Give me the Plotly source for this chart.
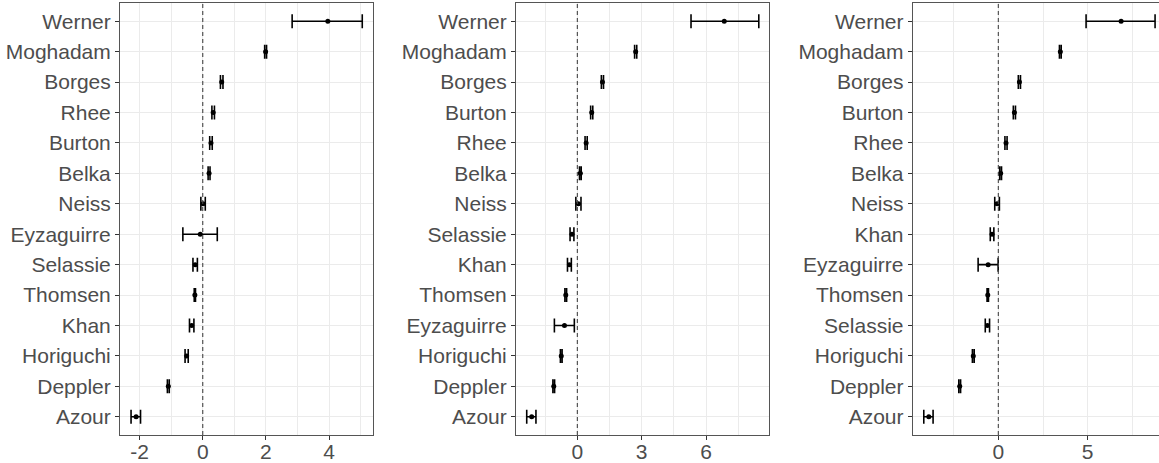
import plotly.graph_objects as go

# ---------------- data ----------------
names = ["Azour", "Belka", "Borges", "Burton", "Deppler", "Eyzaguirre", "Horiguchi",
         "Khan", "Moghadam", "Neiss", "Rhee", "Selassie", "Thomsen", "Werner"]

est1 = [-2.11, 0.20, 0.60, 0.26, -1.09, -0.08, -0.51, -0.35, 1.99, 0.01, 0.33, -0.24, -0.25, 3.96]
lo1 = [-2.27, 0.17, 0.56, 0.22, -1.12, -0.63, -0.56, -0.42, 1.96, -0.06, 0.29, -0.31, -0.27, 2.83]
hi1 = [-1.97, 0.23, 0.64, 0.30, -1.06, 0.46, -0.46, -0.28, 2.02, 0.08, 0.37, -0.17, -0.23, 5.05]

est2 = [-2.13, 0.14, 1.17, 0.67, -1.10, -0.60, -0.75, -0.37, 2.72, 0.05, 0.41, -0.25, -0.54, 6.85]
lo2 = [-2.36, 0.10, 1.12, 0.62, -1.14, -1.07, -0.79, -0.46, 2.67, -0.07, 0.36, -0.34, -0.58, 5.30]
hi2 = [-1.93, 0.18, 1.22, 0.72, -1.06, -0.14, -0.71, -0.28, 2.77, 0.17, 0.46, -0.16, -0.50, 8.46]

est3 = [-3.89, 0.13, 1.18, 0.90, -2.16, -0.57, -1.40, -0.35, 3.47, -0.07, 0.43, -0.61, -0.59, 6.87]
lo3 = [-4.17, 0.08, 1.12, 0.84, -2.21, -1.13, -1.45, -0.45, 3.42, -0.20, 0.37, -0.73, -0.63, 4.91]
hi3 = [-3.65, 0.18, 1.24, 0.96, -2.11, -0.01, -1.35, -0.25, 3.52, 0.06, 0.49, -0.49, -0.55, 8.77]

ticks1 = [-2, 0, 2, 4]
ticks2 = [0, 3, 6]
ticks3 = [0, 5]

panels = [(est1, lo1, hi1, ticks1), (est2, lo2, hi2, ticks2), (est3, lo3, hi3, ticks3)]

# ---------------- layout settings ----------------
W, H = 1159, 463
x_domains = [(120 / W, 373 / W), (516 / W, 769.3 / W), (912.7 / W, 1.0)]
y_domain = ((H - 435) / H, (H - 3) / H)
x_ranges = [(-2.62, 5.39), (-2.86, 8.95), (-4.79, 8.99)]
minor_dt = [1, 1.5, 2.5]

FONT = "Liberation Sans, Arial, Helvetica, sans-serif"
TXT = "#4D4D4D"
GRID = "#EBEBEB"
BORDER = "#555555"
FS = 21

fig = go.Figure()
layout = dict(
    width=W, height=H,
    margin=dict(l=0, r=0, t=0, b=0),
    paper_bgcolor="white", plot_bgcolor="white",
    showlegend=False,
    font=dict(family=FONT, color=TXT, size=FS),
)
shapes = []

for i, (est, lo, hi, tv) in enumerate(panels):
    k = "" if i == 0 else str(i + 1)
    order = sorted(range(len(names)), key=lambda j: est[j])
    cats = [names[j] for j in order]
    xs = [est[j] for j in order]
    plus = [hi[j] - est[j] for j in order]
    minus = [est[j] - lo[j] for j in order]

    fig.add_trace(go.Scatter(
        x=xs, y=cats, mode="markers",
        xaxis="x" + k, yaxis="y" + k,
        marker=dict(color="black", size=5),
        error_x=dict(type="data", symmetric=False, array=plus, arrayminus=minus,
                     color="black", thickness=1.6, width=7),
        hoverinfo="x+y",
    ))

    layout["xaxis" + k] = dict(
        domain=list(x_domains[i]), anchor="y" + k,
        range=list(x_ranges[i]),
        tickmode="array", tickvals=tv, ticktext=[f"{v:g}" for v in tv],
        showgrid=True, gridcolor=GRID, gridwidth=1.2,
        minor=dict(tickmode="linear", dtick=minor_dt[i], tick0=0, showgrid=True,
                   gridcolor=GRID, gridwidth=0.7, ticks=""),
        zeroline=False,
        showline=True, linecolor=BORDER, linewidth=1, mirror=True,
        ticks="outside", ticklen=4, tickcolor="#333333", tickwidth=1,
        ticklabelstandoff=-6,
        tickfont=dict(family=FONT, color=TXT, size=FS),
        automargin=False, fixedrange=True,
    )
    layout["yaxis" + k] = dict(
        domain=list(y_domain), anchor="x" + k,
        type="category", categoryorder="array", categoryarray=cats,
        range=[-0.6, len(cats) - 0.4],
        showgrid=True, gridcolor=GRID, gridwidth=1.2,
        zeroline=False,
        showline=True, linecolor=BORDER, linewidth=1, mirror=(i < 2),
        ticks="outside", ticklen=4, tickcolor="#333333", tickwidth=1,
        tickfont=dict(family=FONT, color=TXT, size=FS),
        automargin=False, fixedrange=True,
    )
    shapes.append(dict(
        type="line", xref="x" + k, yref="y" + k + " domain",
        x0=0, x1=0, y0=0, y1=1, layer="above",
        line=dict(color="#444444", width=1.1, dash="4px,3px"),
    ))

layout["shapes"] = shapes
fig.update_layout(**layout)
fig.write_html(
    "out.html",
    config={"displayModeBar": False},
    post_script="document.body.style.margin='0px';document.body.style.overflow='hidden';",
)
